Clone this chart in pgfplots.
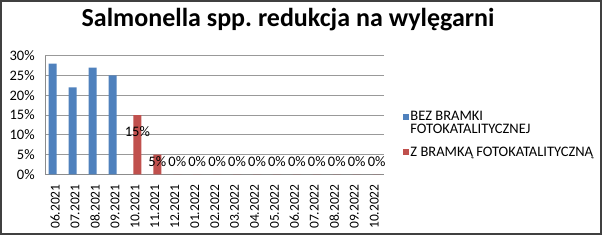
\documentclass[border=0pt]{standalone}
\usepackage{pgfplots}
\pgfplotsset{compat=1.18}
\usepackage{fontspec}
\setmainfont{Carlito}
\frenchspacing
\definecolor{blueA}{HTML}{4F81BD}
\definecolor{redA}{HTML}{C0504D}
\begin{document}
\begin{tikzpicture}[x=1pt,y=1pt]
\useasboundingbox (0,0) rectangle (606,242);
\draw[black!75, line width=1.3pt] (1,241) rectangle (601,8);
\node[font=\bfseries\fontsize{26}{29}\selectfont, anchor=base] at (288,215.5) {Salmonella spp.\ redukcja na wylęgarni};
\begin{axis}[
  at={(45.2pt,67.7pt)}, anchor=south west,
  width=339pt, height=118.6pt, scale only axis,
  xmin=-0.5, xmax=16.5, ymin=0, ymax=30,
  axis x line*=bottom, axis y line*=left,
  axis line style={draw=black!45, -},
  ymajorgrids, grid style={draw=black!40, line width=0.6pt},
  major tick length=0pt,
  ytick={0,5,...,30},
  yticklabel={\pgfmathprintnumber{\tick}\%},
  /pgf/number format/assume math mode=true,
  yticklabel style={font=\fontsize{14.5}{16}\selectfont, xshift=-7pt},
  xtick={0,...,16},
  xticklabels={06.2021,07.2021,08.2021,09.2021,10.2021,11.2021,12.2021,01.2022,02.2022,03.2022,04.2022,05.2022,06.2022,07.2022,08.2022,09.2022,10.2022},
  xticklabel style={font=\fontsize{13.5}{15}\selectfont, rotate=90, anchor=east, xshift=-6.5pt},
  legend style={at={(rel axis cs:1.055,0.553)}, anchor=north west, draw=none, fill=none,
    font=\fontsize{14.5}{13}\selectfont, inner sep=0pt, row sep=8pt,
    nodes={align=left, inner sep=2pt}},
  legend cell align=left,
  clip=false,
]
\addplot[ybar, bar width=8pt, bar shift=-2.45pt, fill=blueA, draw=none, forget plot]
  coordinates {(0,28) (1,22) (2,27) (3,25)};
\addplot[ybar, bar width=8pt, bar shift=2.45pt, fill=redA, draw=none, forget plot]
  coordinates {(4,15) (5,5) (6,0) (7,0) (8,0) (9,0) (10,0) (11,0) (12,0) (13,0) (14,0) (15,0) (16,0)};
% data labels of the second series
\addplot[only marks, mark=none, forget plot, point meta=explicit symbolic,
  nodes near coords, nodes near coords style={anchor=center, font=\fontsize{14.5}{16}\selectfont, inner sep=0pt}]
  coordinates {(4.1225,10.9)[15\%] (5.1225,3.1)[5\%] (6.1225,3.1)[0\%] (7.1225,3.1)[0\%] (8.1225,3.1)[0\%] (9.1225,3.1)[0\%] (10.1225,3.1)[0\%] (11.1225,3.1)[0\%] (12.1225,3.1)[0\%] (13.1225,3.1)[0\%] (14.1225,3.1)[0\%] (15.1225,3.1)[0\%] (16.1225,3.1)[0\%]};
\addlegendimage{legend image code/.code={\fill[blueA] (0pt,4pt) rectangle (5pt,9pt);}}
\addlegendentry{BEZ BRAMKI\\FOTOKATALITYCZNEJ}
\addlegendimage{legend image code/.code={\fill[redA] (0pt,-2.5pt) rectangle (5pt,2.5pt);}}
\addlegendentry{Z BRAMKĄ FOTOKATALITYCZNĄ}
\end{axis}
\end{tikzpicture}
\end{document}
